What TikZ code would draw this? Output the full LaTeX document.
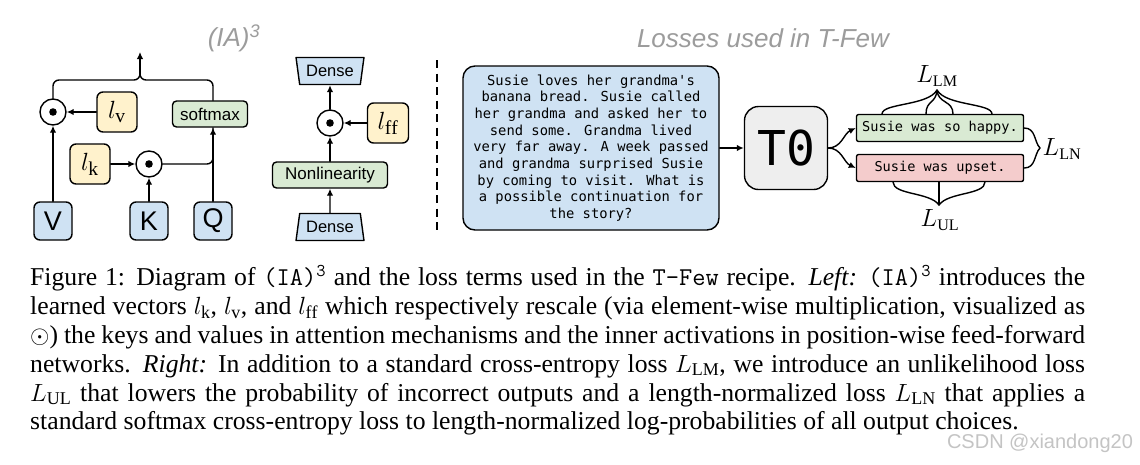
\documentclass[tikz,border=0pt]{standalone}
\usepackage{fontspec}
\setmainfont{Liberation Serif}
\newfontfamily\diagsans{Liberation Sans}
\newfontfamily\boxmono{DejaVu Sans Mono}
\usetikzlibrary{shapes.geometric,arrows.meta}
\definecolor{boxblue}{HTML}{CFE2F3}
\definecolor{boxyellow}{HTML}{FFF2CC}
\definecolor{boxgreen}{HTML}{D9EAD3}
\definecolor{boxred}{HTML}{F4CCCC}
\definecolor{boxgray}{HTML}{EEEEEE}
\definecolor{titlegray}{HTML}{9C9C9C}
\definecolor{wmgray}{HTML}{C4C4C4}

\begin{document}
\begin{tikzpicture}[x=1pt, y=-1pt, line join=round, line cap=round, >={Latex[length=7pt,width=6.5pt]},
	every node/.style={inner sep=0pt},
	wire/.style={line width=1.4pt},
	inbox/.style={draw, wire, rounded corners=6pt, fill=boxblue, minimum width=38pt, minimum height=38pt, font=\diagsans\fontsize{27}{27}\selectfont},
	vecbox/.style={draw, wire, rounded corners=6pt, fill=boxyellow, minimum width=40pt, minimum height=40pt, font=\fontsize{28}{28}\selectfont},
	opbox/.style={draw, wire, rounded corners=4pt, fill=boxgreen, minimum height=26pt, font=\diagsans\fontsize{17}{17}\selectfont},
	dense/.style={draw, wire, trapezium, trapezium stretches=true, fill=boxblue, minimum width=68pt, minimum height=27pt, trapezium left angle=76, trapezium right angle=76, font=\diagsans\fontsize{16.5}{16.5}\selectfont},
	mult/.style={draw, wire, circle, fill=white, minimum size=26pt, path picture={\fill[black] (path picture bounding box.center) circle (3.8pt);}},
	sent/.style={draw, wire, rounded corners=2pt, minimum width=167pt, minimum height=27pt, font=\boxmono\fontsize{13.6}{13.6}\selectfont},
	loss/.style={font=\fontsize{23}{23}\selectfont},
	heading/.style={text=titlegray, font=\diagsans\itshape\fontsize{26}{26}\selectfont}]
	\fill[white] (0,0) rectangle (1140,464);
	\useasboundingbox (0,0) rectangle (1140,464);
	% (IA)^3 attention
	\node[heading] (tia) at (234,38) {(IA)\textsuperscript{3}};
	\node[inbox] (V) at (53,221) {V};
	\node[inbox] (K) at (149,221) {K};
	\node[inbox] (Q) at (213,221) {Q};
	\node[mult] (mv) at (53,112) {};
	\node[mult] (mk) at (149,164) {};
	\node[vecbox] (lv) at (117,112) {$l_{\mathrm{v}}$};
	\node[vecbox] (lk) at (90,164) {$l_{\mathrm{k}}$};
	\node[opbox, minimum width=75pt] (sm) at (210,114) {softmax};
	\coordinate (join) at (140,80);
	\coordinate (jtop) at (140,74);
	\coordinate (attout) at (140,52);
	\draw[wire,->] (V) -- (mv);
	\draw[wire,->] (lv) -- (mv);
	\draw[wire,->] (K) -- (mk);
	\draw[wire,->] (lk) -- (mk);
	\draw[wire,->] (Q) -- (Q |- sm.south);
	\draw[wire,rounded corners=6pt] (mk) -| (Q |- sm.south);
	\draw[wire,rounded corners=6pt] (mv) |- (join) -- (jtop);
	\draw[wire,rounded corners=6pt] (Q |- sm.north) |- (join) -- (jtop);
	\draw[wire,->] (jtop) -- (attout);
	% feed-forward
	\node[dense, shape border rotate=180] (dtop) at (330,71) {Dense};
	\node[mult] (mf) at (330,123) {};
	\node[vecbox, minimum width=41pt] (lff) at (388,123) {$l_{\mathrm{ff}}$};
	\node[opbox, minimum width=115pt] (nl) at (330,175) {Nonlinearity};
	\node[dense] (dbot) at (330,227) {Dense};
	\draw[wire,->] (dbot) -- (nl);
	\draw[wire,->] (nl) -- (mf);
	\draw[wire,->] (lff) -- (mf);
	\draw[wire,->] (mf) -- (dtop);
	\draw[line width=2.2pt, line cap=butt, dash pattern=on 8pt off 5.5pt] (437,60) -- (437,233);
	% losses
	\node[heading] (tloss) at (763,38) {Losses used in T-Few};
	\node[draw, wire, rounded corners=12pt, fill=boxblue, minimum width=256pt, minimum height=164pt, align=center, font=\boxmono\fontsize{13.8}{16.7}\selectfont] (story) at (591,148)
		{Susie loves her grandma\textquotesingle s\\banana bread. Susie called\\her grandma and asked her to\\send some. Grandma lived\\very far away. A week passed\\and grandma surprised Susie\\by coming to visit. What is\\a possible continuation for\\the story?};
	\node[draw, wire, rounded corners=14pt, fill=boxgray, minimum size=83pt, font=\boxmono\fontsize{48}{48}\selectfont] (T0) at (786,148) {T0};
	\node[sent, fill=boxgreen] (hap) at (940,128) {Susie was so happy.};
	\node[sent, fill=boxred] (ups) at (940,168) {Susie was upset.};
	\draw[wire,->] (story) -- (T0);
	\draw[wire,->] (T0.east) to[out=0,in=205] (hap.west);
	\draw[wire,->] (T0.east) to[out=0,in=155] (ups.west);
	\coordinate (lmtip) at (937,90);
	\coordinate (lntip) at (1040,148);
	\coordinate (ultip) at (939,205);
	\draw[wire] (882,114) .. controls (882,103) and (928,106) .. (lmtip) .. controls (946,106) and (992,103) .. (992,114);
	\draw[wire] (926,114) .. controls (926,100) and (936,104) .. (lmtip) .. controls (938,104) and (953,100) .. (953,114);
	\draw[wire] (hap.east) .. controls (1036,128) and (1034,142) .. (lntip) .. controls (1034,154) and (1036,168) .. (ups.east);
	\draw[wire] (893,182) .. controls (893,195) and (930,192) .. (ultip) .. controls (948,192) and (985,195) .. (985,182);
	\draw[wire] (ups.south -| ultip) -- (ultip);
	\node[loss] (llm) at (937,76) {$L_{\mathrm{LM}}$};
	\node[loss] (lln) at (1062,149) {$L_{\mathrm{LN}}$};
	\node[loss] (lul) at (940,220) {$L_{\mathrm{UL}}$};
	% caption
	\node[anchor=north west, text width=1055pt, align=justify, font=\fontsize{25.7}{28.9}\selectfont] (cap) at (30,265)
		{Figure 1: Diagram of \texttt{(IA)}$^{\mathtt{3}}$ and the loss terms used in the \texttt{T-Few} recipe. \textit{Left:} \texttt{(IA)}$^{\mathtt{3}}$ introduces the\linebreak
		learned vectors $l_{\mathrm{k}}$, $l_{\mathrm{v}}$, and $l_{\mathrm{ff}}$ which respectively rescale (via element-wise multiplication, visualized as\linebreak
		$\odot$) the keys and values in attention mechanisms and the inner activations in position-wise feed-forward\linebreak
		networks. \textit{Right:} In addition to a standard cross-entropy loss $L_{\mathrm{LM}}$, we introduce an unlikelihood loss\linebreak
		$L_{\mathrm{UL}}$ that lowers the probability of incorrect outputs and a length-normalized loss $L_{\mathrm{LN}}$ that applies a\linebreak
		standard $\mathrm{softmax}$ cross-entropy loss to length-normalized log-probabilities of all output choices.};
	\node[text=wmgray, font=\diagsans\fontsize{20}{20}\selectfont] (wm) at (1040,443) {CSDN @xiandong20};
\end{tikzpicture}
\end{document}
